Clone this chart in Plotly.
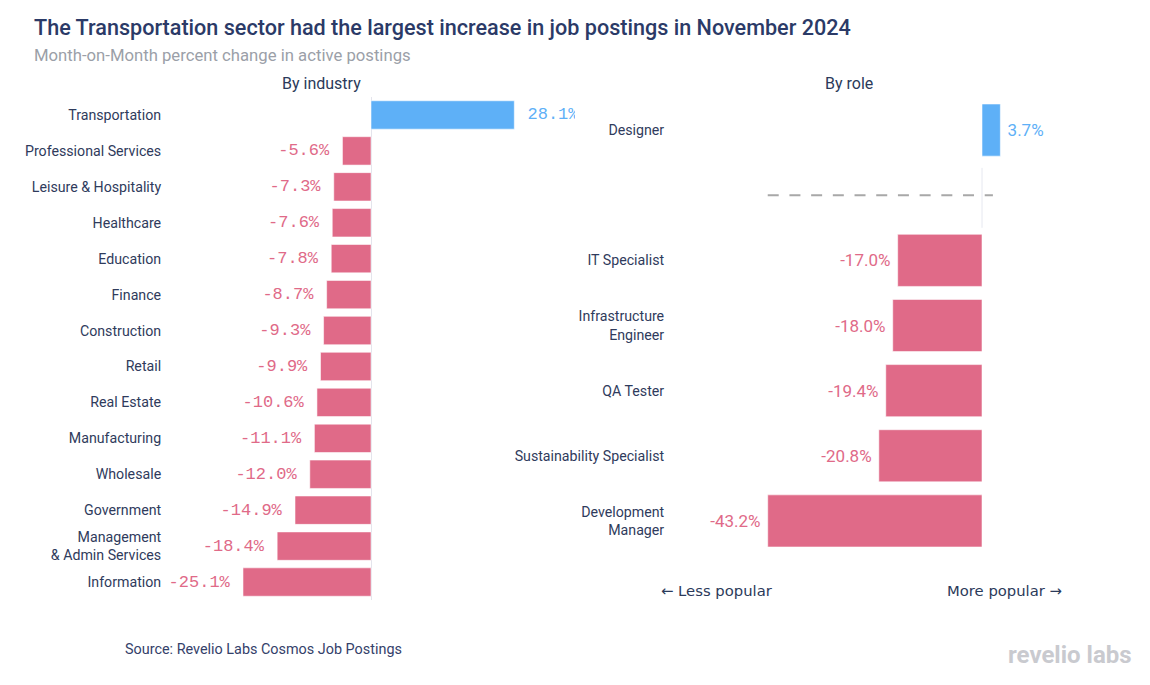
import plotly.graph_objects as go

# ---------------- data ----------------
industries = ["Transportation", "Professional Services", "Leisure & Hospitality", "Healthcare",
              "Education", "Finance", "Construction", "Retail", "Real Estate", "Manufacturing",
              "Wholesale", "Government", "Management<br>& Admin Services", "Information"]
industry_change = [28.1, -5.6, -7.3, -7.6, -7.8, -8.7, -9.3, -9.9, -10.6, -11.1, -12.0, -14.9, -18.4, -25.1]

roles = ["Designer", "IT Specialist", "Infrastructure<br>Engineer", "QA Tester",
         "Sustainability Specialist", "Development<br>Manager"]
role_change = [3.7, -17.0, -18.0, -19.4, -20.8, -43.2]

# ---------------- style ----------------
BLUE = "#5eb0f7"
PINK = "#e06a88"
DARK = "#2b3a67"
W, H, OFF = 1134, 669, 8


def fx(p):
    return (p - OFF) / W


def fy(p):
    return 1 - (p - OFF) / H


def col(v):
    return BLUE if v > 0 else PINK


ind_colors = [col(v) for v in industry_change]
ind_text = [f" {v:.1f}%" if v > 0 else f"{v:.1f}% " for v in industry_change]

role_colors = [col(v) for v in role_change]
role_text = [f" {v:.1f}%" if v > 0 else f"{v:.1f}% " for v in role_change]
# positives first, then a separator row, then negatives
role_pos = [i if v > 0 else i + 1 for i, v in enumerate(role_change)]
sep_row = sum(1 for v in role_change if v > 0)

fig = go.Figure()

fig.add_trace(go.Bar(
    x=industry_change, y=industries, orientation="h",
    marker=dict(color=ind_colors, line=dict(color="rgba(255,255,255,0.55)", width=1)),
    width=0.79,
    text=ind_text, textposition="outside", cliponaxis=True, constraintext="none",
    textfont=dict(family="Liberation Mono", size=17, color=ind_colors),
    xaxis="x", yaxis="y", showlegend=False, hoverinfo="skip",
))

fig.add_trace(go.Bar(
    x=role_change, y=role_pos, orientation="h",
    marker=dict(color=role_colors, line=dict(color="rgba(255,255,255,0.55)", width=1)),
    width=0.8,
    text=role_text, textposition="outside", cliponaxis=False, constraintext="none",
    textfont=dict(family="Roboto", size=17, color=role_colors),
    xaxis="x2", yaxis="y2", showlegend=False, hoverinfo="skip",
))

tickfont = dict(family="Roboto", size=14.2, color="#2f3b5c")

fig.update_layout(
    width=W, height=H,
    margin=dict(l=0, r=0, t=0, b=0),
    paper_bgcolor="white", plot_bgcolor="white",
    xaxis=dict(domain=[fx(167), fx(575)], range=[-40, 40], showgrid=False,
               showticklabels=False, zeroline=True, zerolinecolor="#e4e4ec", zerolinewidth=1,
               fixedrange=True),
    yaxis=dict(domain=[fy(600), fy(97)], type="category", range=[len(industries) - 0.5, -0.5],
               showgrid=False, zeroline=False, ticks="outside", ticklen=0, tickcolor="white",
               ticklabelstandoff=2, tickfont=tickfont, anchor="x"),
    xaxis2=dict(domain=[fx(670), fx(1065)], range=[(670 - 982) / 4.96, (1065 - 982) / 4.96],
                showgrid=False, showticklabels=False, zeroline=False, fixedrange=True, anchor="y2"),
    yaxis2=dict(domain=[fy(553.5), fy(97.5)], range=[len(roles) + 0.5, -0.5],
                tickvals=role_pos, ticktext=roles, showgrid=False, zeroline=False,
                ticks="outside", ticklen=0, tickcolor="white", ticklabelstandoff=2,
                tickfont=tickfont, anchor="x2"),
    bargap=0.2,
    shapes=[
        dict(type="line", xref="x2", yref="y2", x0=min(role_change), x1=2.2,
             y0=sep_row, y1=sep_row, line=dict(color="#a8a8a8", width=2, dash="11px,10.7px")),
        dict(type="line", xref="x2", yref="y2", x0=0, x1=0,
             y0=sep_row - 0.42, y1=sep_row + 0.5, line=dict(color="#e6e8f0", width=1)),
    ],
    annotations=[
        dict(text="The Transportation sector had the largest increase in job postings in November 2024",
             x=fx(32), y=fy(27), xref="paper", yref="paper", xanchor="left", yanchor="middle",
             showarrow=False, font=dict(family="Roboto", size=21.6, color=DARK, weight=500)),
        dict(text="Month-on-Month percent change in active postings",
             x=fx(32), y=fy(55), xref="paper", yref="paper", xanchor="left", yanchor="middle",
             showarrow=False, font=dict(family="Roboto", size=16.7, color="#9b9fa8")),
        dict(text="By industry", x=fx(321), y=fy(84), xref="paper", yref="paper",
             xanchor="center", yanchor="middle", showarrow=False,
             font=dict(family="Roboto", size=16, color="#2b3a5a")),
        dict(text="By role", x=fx(849), y=fy(84), xref="paper", yref="paper",
             xanchor="center", yanchor="middle", showarrow=False,
             font=dict(family="Roboto", size=16, color="#2b3a5a")),
        dict(text="← Less popular", x=fx(659), y=fy(590), xref="paper", yref="paper",
             xanchor="left", yanchor="middle", showarrow=False,
             font=dict(family="DejaVu Sans", size=14.8, color="#2b3a5a")),
        dict(text="More popular →", x=fx(1064), y=fy(590), xref="paper", yref="paper",
             xanchor="right", yanchor="middle", showarrow=False,
             font=dict(family="DejaVu Sans", size=14.8, color="#2b3a5a")),
        dict(text="Source: Revelio Labs Cosmos Job Postings", x=fx(123), y=fy(649),
             xref="paper", yref="paper", xanchor="left", yanchor="middle", showarrow=False,
             font=dict(family="Roboto", size=14.4, color="#34416a")),
        dict(text="<b>revelio labs</b>", x=fx(1134), y=fy(655), xref="paper", yref="paper",
             xanchor="right", yanchor="middle", showarrow=False,
             font=dict(family="Roboto", size=24, color="#c9cacf")),
    ],
)

fig.write_html("out.html")
